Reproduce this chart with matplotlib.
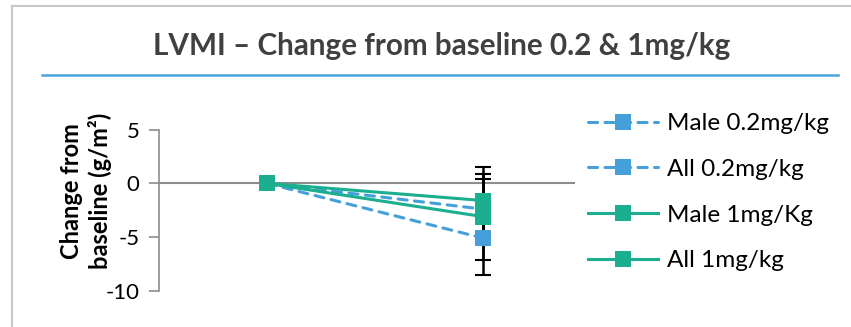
import numpy as np
import matplotlib
matplotlib.use("Agg")
import matplotlib.pyplot as plt
from matplotlib.lines import Line2D

plt.rcParams['font.family'] = ['Lato', 'DejaVu Sans']
plt.rcParams['axes.unicode_minus'] = False

# visits (baseline and follow-up) and change in LVMI, g/m^2
visits = [0, 1]
male_02 = [0, -5.1]
male_02_err = [0, 3.4]
all_02 = [0, -2.4]
all_02_err = [0, 2.8]
male_1 = [0, -1.6]
male_1_err = [0, 3.1]
all_1 = [0, -3.1]
all_1_err = [0, 4.0]

labels = ["Male 0.2mg/kg", "All 0.2mg/kg", "Male 1mg/Kg", "All 1mg/kg"]

blue = "#45A0DA"
teal = "#1BAE8F"
W, H = 851, 327

fig = plt.figure(figsize=(W / 100, H / 100), dpi=100)

# chart frame (top and left edges) and the rule under the title
fig.add_artist(Line2D([12 / W, 1], [1 - 6 / H, 1 - 6 / H], color="#C8C8C8", lw=1.5))
fig.add_artist(Line2D([12 / W, 12 / W], [0, 1 - 6 / H], color="#C8C8C8", lw=1.5))
fig.add_artist(Line2D([42 / W, 838 / W], [1 - 75 / H, 1 - 75 / H], color="#4AA3DD", lw=1.8))

fig.text(442 / W, 1 - 46 / H, "LVMI \u2013 Change from baseline 0.2 & 1mg/kg",
         ha="center", va="center", fontsize=21.3, fontweight="bold", color="#404040")

ax = fig.add_axes([159 / W, 1 - 290.7 / H, (575 - 159) / W, (290.7 - 129.7) / H])
ax.set_ylim(-10, 5)
ax.set_xlim(-0.5, 1.426)
ax.set_yticks([5, 0, -5, -10])
ax.set_xticks([])
for s in ["top", "right", "bottom"]:
    ax.spines[s].set_visible(False)
ax.spines["left"].set_color("#8C8C8C")
ax.spines["left"].set_linewidth(1.2)
ax.tick_params(axis="y", direction="out", length=7, width=1.2, color="#8C8C8C",
               labelsize=16, pad=7)
ax.axhline(0, color="#8C8C8C", lw=1.5, zorder=1)
ax.patch.set_alpha(0)

series = [
    (male_02, male_02_err, blue, (0, (3, 2.4))),
    (all_02, all_02_err, blue, (0, (3, 2.4))),
    (male_1, male_1_err, teal, "-"),
    (all_1, all_1_err, teal, "-"),
]

handles = []
for (vals, errs, col, ls), lab in zip(series, labels):
    ax.errorbar(visits[1:], vals[1:], yerr=errs[1:], fmt="none", ecolor="black",
                elinewidth=1.8, capsize=6, capthick=1.5, zorder=2)
    h, = ax.plot(visits, vals, color=col, ls=ls, lw=2.2, marker="s", markersize=11,
                 markeredgewidth=0, dash_capstyle="round", label=lab, zorder=3)
    handles.append(h)

fig.legend(handles=handles, loc="upper left", bbox_to_anchor=(588 / W, 1 - 113 / H),
           frameon=False, fontsize=17.5, handlelength=2.9, handletextpad=0.33,
           labelspacing=1.02, borderpad=0, borderaxespad=0)

fig.text(86 / W, 1 - 191 / H, "Change from\nbaseline (g/m\u00b2)", rotation=90,
         ha="center", va="center", ma="center", fontsize=17, fontweight="bold",
         linespacing=1.25)

fig.savefig("out.png", dpi=100)
